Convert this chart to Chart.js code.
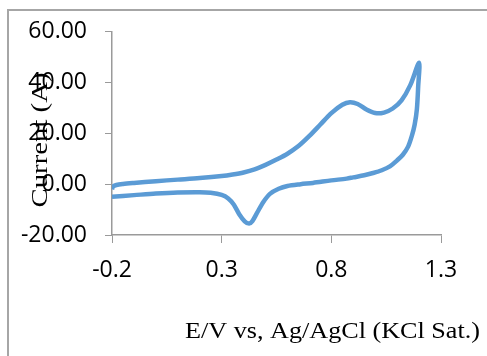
<!DOCTYPE html>
<html>
<head>
<meta charset="utf-8">
<script src="https://cdn.jsdelivr.net/npm/chart.js@4.4.1/dist/chart.umd.min.js"></script>
<style>
  html, body { margin: 0; padding: 0; background: #ffffff; }
  #wrap { width: 487px; height: 356px; }
</style>
</head>
<body>
<div id="wrap"><canvas id="c" width="487" height="356"></canvas></div>
<script>
// ---- data ----
const forwardE = [-0.200, -0.195, -0.180, -0.150, -0.100, 0.000, 0.100, 0.200, 0.300, 0.350, 0.400, 0.450, 0.500, 0.550, 0.600, 0.650, 0.700, 0.750, 0.800, 0.850, 0.885, 0.920, 0.960, 1.000, 1.040, 1.080, 1.120, 1.160, 1.200];
const forwardI = [-2.0, -0.9, -0.3, 0.1, 0.5, 1.2, 1.8, 2.4, 3.2, 3.8, 4.6, 5.8, 7.6, 9.7, 12.0, 15.0, 19.0, 23.5, 28.0, 31.3, 32.3, 31.6, 29.4, 28.0, 28.2, 29.8, 33.0, 39.0, 47.8];
const reverseE = [1.196, 1.190, 1.180, 1.167, 1.150, 1.126, 1.100, 1.067, 1.030, 0.990, 0.950, 0.900, 0.870, 0.800, 0.716, 0.660, 0.600, 0.560, 0.520, 0.490, 0.460, 0.440, 0.425, 0.405, 0.380, 0.355, 0.330, 0.300, 0.250, 0.200, 0.100, 0.000, -0.100, -0.200];
const reverseI = [38.5, 29.5, 23.5, 19.0, 14.8, 11.6, 9.4, 7.0, 5.5, 4.4, 3.5, 2.7, 2.2, 1.5, 0.5, 0.0, -0.7, -1.8, -3.8, -7.0, -11.5, -14.5, -15.5, -14.6, -11.8, -8.0, -5.6, -4.2, -3.4, -3.2, -3.3, -3.7, -4.3, -4.9];
const xTickValues = [-0.2, 0.3, 0.8, 1.3];
const yTickValues = [-20, 0, 20, 40, 60];
const xTitle = 'E/V vs, Ag/AgCl (KCl Sat.)';
const yTitle = 'Current (A)';

const points = [];
forwardE.forEach((e, i) => points.push({x: e, y: forwardI[i]}));
reverseE.forEach((e, i) => points.push({x: e, y: reverseI[i]}));

const axisColor = '#9a9a9a';

const decor = {
  id: 'decor',
  beforeDraw(chart) {
    const ctx = chart.ctx;
    ctx.save();
    ctx.strokeStyle = '#a6a6a6';
    ctx.lineWidth = 2;
    ctx.beginPath();
    ctx.moveTo(8, 356);
    ctx.lineTo(8, 10);
    ctx.lineTo(487, 10);
    ctx.stroke();
    ctx.restore();
  },
  afterDraw(chart) {
    const ctx = chart.ctx;
    ctx.save();
    ctx.fillStyle = '#000000';
    ctx.font = '23px "Liberation Serif", "Times New Roman", serif';
    // x title
    let w = ctx.measureText(xTitle).width;
    let sx = 295 / w;
    ctx.save();
    ctx.translate(185, 338);
    ctx.scale(sx, 1);
    ctx.textAlign = 'left';
    ctx.textBaseline = 'alphabetic';
    ctx.fillText(xTitle, 0, 0);
    ctx.restore();
    // y title
    w = ctx.measureText(yTitle).width;
    sx = 135 / w;
    ctx.save();
    ctx.translate(41, 140);
    ctx.rotate(-Math.PI / 2);
    ctx.scale(sx, 1);
    ctx.textAlign = 'center';
    ctx.textBaseline = 'middle';
    ctx.fillText(yTitle, 0, 0);
    ctx.restore();
    ctx.restore();
  }
};

new Chart(document.getElementById('c'), {
  type: 'scatter',
  data: {
    datasets: [{
      data: points,
      showLine: true,
      borderColor: '#5b9bd5',
      backgroundColor: '#5b9bd5',
      borderWidth: 4.5,
      pointRadius: 0,
      tension: 0.3,
      fill: false
    }]
  },
  options: {
    responsive: false,
    animation: false,
    devicePixelRatio: 1,
    layout: { padding: { left: 0, right: 46, top: 29, bottom: 0 } },
    plugins: { legend: { display: false }, tooltip: { enabled: false } },
    scales: {
      x: {
        type: 'linear',
        min: xTickValues[0],
        max: xTickValues[xTickValues.length - 1],
        afterBuildTicks: (scale) => { scale.ticks = xTickValues.map(v => ({value: v})); },
        afterFit: (scale) => { scale.height = 121; },
        grid: { drawOnChartArea: false, drawTicks: true, tickLength: 8, color: axisColor },
        border: { display: true, color: axisColor, width: 1.5 },
        ticks: {
          color: '#000000',
          padding: 14,
          maxRotation: 0,
          font: { family: '"Open Sans", sans-serif', size: 23 },
          callback: (v) => Number(v).toFixed(1)
        }
      },
      y: {
        type: 'linear',
        min: yTickValues[0],
        max: yTickValues[yTickValues.length - 1],
        afterBuildTicks: (scale) => { scale.ticks = yTickValues.map(v => ({value: v})); },
        afterFit: (scale) => { scale.width = 112; },
        grid: { drawOnChartArea: false, drawTicks: true, tickLength: 7, color: axisColor },
        border: { display: true, color: axisColor, width: 1.5 },
        ticks: {
          color: '#000000',
          padding: 18,
          font: { family: '"Open Sans", sans-serif', size: 23 },
          callback: (v) => Number(v).toFixed(2)
        }
      }
    }
  },
  plugins: [decor]
});
</script>
</body>
</html>
